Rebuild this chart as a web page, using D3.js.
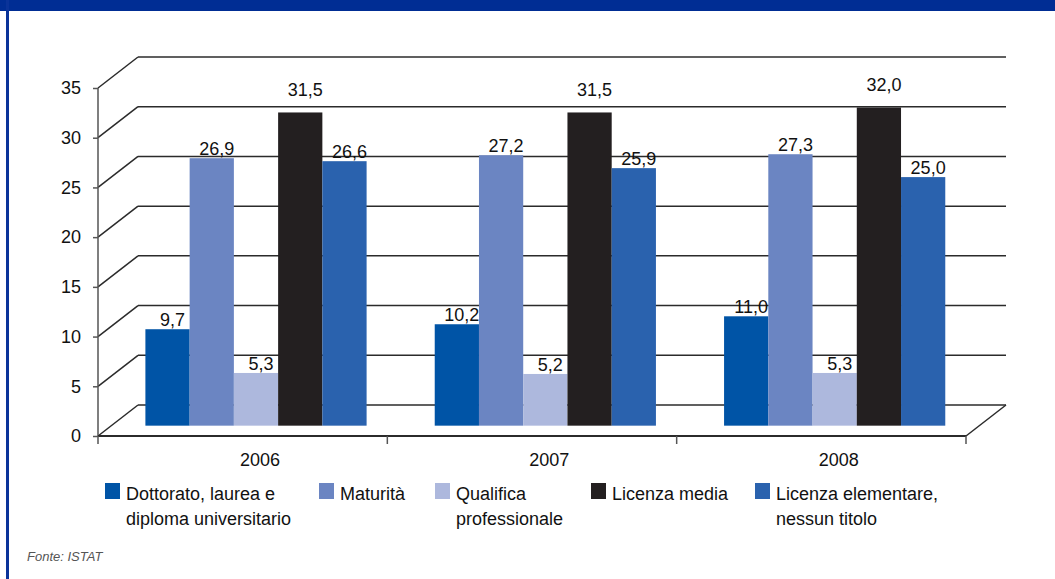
<!DOCTYPE html>
<html>
<head>
<meta charset="utf-8">
<script src="https://cdn.jsdelivr.net/npm/d3@7"></script>
<style>
  html, body { margin: 0; padding: 0; background: #fff; }
  svg { display: block; }
</style>
</head>
<body>
<svg id="chart" width="1055" height="579"></svg>
<script>
// Years on the category axis
const years = ["2006", "2007", "2008"];

// Education levels (one bar per level in each year)
const seriesNames = [
  "Dottorato, laurea e|diploma universitario",
  "Maturità",
  "Qualifica|professionale",
  "Licenza media",
  "Licenza elementare,|nessun titolo"
];
const seriesColors = ["#0054a6", "#6b85c2", "#adb8dd", "#231f20", "#2a62ae"];

// Percentages per level, in year order
const dottorato = [9.7, 10.2, 11.0];
const maturita = [26.9, 27.2, 27.3];
const qualifica = [5.3, 5.2, 5.3];
const licenzaMedia = [31.5, 31.5, 32.0];
const licenzaElementare = [26.6, 25.9, 25.0];
const seriesValues = [dottorato, maturita, qualifica, licenzaMedia, licenzaElementare];

// Value axis ticks
const yTicks = [0, 5, 10, 15, 20, 25, 30, 35];

const svg = d3.select("#chart");
const fmt = v => d3.format(".1f")(v).replace(".", ",");
const FONT = "Liberation Sans, Arial, sans-serif";
const FS = 18;

// Page frame: header band and left rule
svg.append("rect").attr("x", 0).attr("y", 0).attr("width", 1055).attr("height", 11).attr("fill", "#002d94");
svg.append("rect").attr("x", 6).attr("y", 0).attr("width", 3).attr("height", 579).attr("fill", "#0a3399");

// Front plane scales
const x0 = d3.scaleBand().domain(years).range([98, 966]).paddingInner(0).paddingOuter(0);
const y = d3.scaleLinear().domain([0, 35]).range([436, 88]);

// Depth of the box and the plane the bars sit in
const depthX = 40, depthY = -31;
const barShiftX = depthX / 3, barShiftY = depthY / 3;

const lineColor = "#2b2b2b";
const g = svg.append("g");

// Walls: gridline at each tick (front diagonal + back horizontal)
yTicks.forEach(t => {
  const yy = y(t);
  g.append("line")
    .attr("x1", 98).attr("y1", yy).attr("x2", 98 + depthX).attr("y2", yy + depthY)
    .attr("stroke", lineColor).attr("stroke-width", 1.5);
  g.append("line")
    .attr("x1", 98 + depthX).attr("y1", yy + depthY).attr("x2", 966 + depthX).attr("y2", yy + depthY)
    .attr("stroke", lineColor).attr("stroke-width", 1.5);
});
// Floor right edge
g.append("line")
  .attr("x1", 966).attr("y1", y(0)).attr("x2", 966 + depthX).attr("y2", y(0) + depthY)
  .attr("stroke", lineColor).attr("stroke-width", 1.5);

// Bars
const x1 = d3.scaleBand().domain(d3.range(seriesNames.length)).range([0, x0.bandwidth()]).paddingOuter(0.77).paddingInner(0);
const bars = g.append("g");
years.forEach((yr, i) => {
  seriesValues.forEach((vals, s) => {
    const v = vals[i];
    const bx = x0(yr) + x1(s) + barShiftX;
    bars.append("rect")
      .attr("x", bx)
      .attr("y", y(v) + barShiftY)
      .attr("width", x1.bandwidth())
      .attr("height", y(0) - y(v))
      .attr("fill", seriesColors[s]);
  });
});

// Value labels (the tallest series is lifted clear of the others)
const raisedSeries = 3;
years.forEach((yr, i) => {
  seriesValues.forEach((vals, s) => {
    const v = vals[i];
    const cx = x0(yr) + x1(s) + barShiftX + x1.bandwidth() / 2 + 5;
    const lift = s === raisedSeries ? 16 : 3;
    g.append("text")
      .attr("x", cx)
      .attr("y", y(v) + barShiftY - lift)
      .attr("text-anchor", "middle")
      .attr("font-family", FONT)
      .attr("font-size", FS)
      .attr("fill", "#111")
      .text(fmt(v));
  });
});

// Value axis
const yAxis = d3.axisLeft(y).tickValues(yTicks).tickSize(5).tickPadding(12).tickFormat(d3.format("d"));
const ya = svg.append("g").attr("transform", "translate(98,0)").call(yAxis);
ya.select(".domain").attr("stroke", "#555").attr("stroke-width", 1.5).attr("d", `M0,${y(35)}V${y(0)}`);
ya.selectAll(".tick line").attr("stroke", "#555").attr("stroke-width", 1.5);
ya.selectAll(".tick text")
  .attr("font-family", FONT)
  .attr("font-size", FS).attr("fill", "#111");

// Category axis
const xa = svg.append("g").attr("transform", `translate(0,${y(0)})`);
xa.append("line").attr("x1", 98).attr("x2", 966).attr("y1", 0).attr("y2", 0)
  .attr("stroke", lineColor).attr("stroke-width", 2);
const bounds = years.map(yr => x0(yr)).concat([x0(years[years.length - 1]) + x0.bandwidth()]);
bounds.forEach(bx => {
  xa.append("line").attr("x1", bx).attr("x2", bx).attr("y1", 0).attr("y2", 8)
    .attr("stroke", "#555").attr("stroke-width", 1.5);
});
years.forEach(yr => {
  xa.append("text")
    .attr("x", x0(yr) + x0.bandwidth() / 2 + barShiftX + 4)
    .attr("y", 30)
    .attr("text-anchor", "middle")
    .attr("font-family", FONT)
    .attr("font-size", FS).attr("fill", "#111")
    .text(yr);
});

// Legend
const legendX = [105, 319, 435, 591, 755];
const legend = svg.append("g");
seriesNames.forEach((name, s) => {
  const lg = legend.append("g").attr("transform", `translate(${legendX[s]},483)`);
  lg.append("rect").attr("width", 15).attr("height", 16).attr("fill", seriesColors[s]);
  const t = lg.append("text")
    .attr("x", 21).attr("y", 17)
    .attr("font-family", FONT)
    .attr("font-size", FS).attr("fill", "#111");
  name.split("|").forEach((part, k) => {
    t.append("tspan").attr("x", 21).attr("dy", k === 0 ? 0 : 25).text(part);
  });
});

// Source note
svg.append("text")
  .attr("x", 27).attr("y", 561)
  .attr("font-family", "Liberation Sans Narrow, Liberation Sans, sans-serif")
  .attr("font-style", "italic")
  .attr("font-size", 13)
  .attr("fill", "#555")
  .text("Fonte: ISTAT");
</script>
</body>
</html>
